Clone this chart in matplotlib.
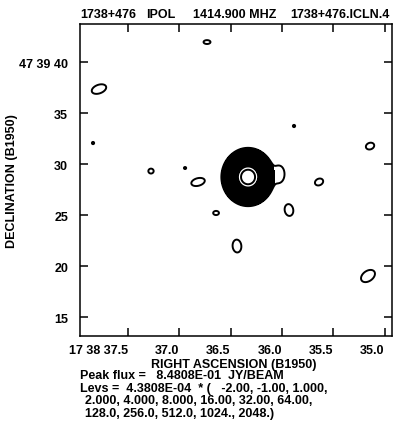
import numpy as np
import matplotlib
matplotlib.use("Agg")
import matplotlib.pyplot as plt

# ── data ─────────────────────────────────────────────────────────────────────

PEAK_FLUX = 8.4808e-01          # Jy/beam
BASE_LEV = 4.3808e-04           # lowest contour, Jy/beam
LEV_MULT = [-2.0, -1.0, 1.0, 2.0, 4.0, 8.0, 16.0, 32.0, 64.0,
            128.0, 256.0, 512.0, 1024.0, 2048.0]

DEC0_DEG = 47 + 39 / 60 + 28 / 3600   # field centre declination

# central source: compact core + fainter halo (RA seconds, Dec arcsec)
CORE_RA, CORE_DEC = 36.330, 28.73
CORE_SIG = [0.61, 0.63]         # arcsec (x, y)
HALO_PEAK = 8.0                 # in units of lowest level
HALO_SIG = [1.23, 1.38]

# faint blobs, each one closed at the lowest contour
BLOB_RA = [36.730, 37.783, 37.841, 37.276, 36.944, 36.818, 35.882,
           35.141, 36.019, 35.638, 36.642, 36.438, 35.931, 35.161]
BLOB_DEC = [41.96, 37.35, 32.06, 29.31, 29.61, 28.24, 33.73,
            31.76, 29.02, 28.24, 25.20, 21.96, 25.49, 19.02]
BLOB_A = [0.34, 0.74, 0.11, 0.26, 0.11, 0.67, 0.11,
          0.42, 0.40, 0.42, 0.28, 0.43, 0.42, 0.76]   # semi-axis x, arcsec
BLOB_B = [0.19, 0.42, 0.11, 0.24, 0.10, 0.37, 0.11,
          0.32, 0.66, 0.32, 0.20, 0.63, 0.58, 0.50]   # semi-axis y, arcsec
BLOB_PA = [0, 20, 0, 0, 0, 15, 0, 20, 0, 25, 0, 5, 10, 35]  # deg, ccw

RA_TICKS = [37.5, 37.0, 36.5, 36.0, 35.5, 35.0]
RA_LABELS = ["17 38 37.5", "37.0", "36.5", "36.0", "35.5", "35.0"]
DEC_TICKS = [15, 20, 25, 30, 35, 40]
DEC_LABELS = ["15", "20", "25", "30", "35", "47 39 40"]

RA_LIM = (37.968, 34.927)
DEC_LIM = (13.14, 43.73)

FS = 9.0

# ── build the map ────────────────────────────────────────────────────────────

plt.rcParams["font.family"] = ["Liberation Sans", "DejaVu Sans"]
plt.rcParams["font.weight"] = "bold"

ra = np.linspace(RA_LIM[1], RA_LIM[0], 900)
dec = np.linspace(DEC_LIM[0], DEC_LIM[1], 900)
RA, DEC = np.meshgrid(ra, dec)
s_per_arcsec = 15 * np.cos(np.radians(DEC0_DEG))

peak_units = PEAK_FLUX / BASE_LEV


def gauss(ra0, dec0, sx, sy, pa, amp):
    x = (ra0 - RA) * s_per_arcsec      # screen x, arcsec (east to the left)
    y = DEC - dec0
    t = np.radians(pa)
    u = x * np.cos(t) + y * np.sin(t)
    v = -x * np.sin(t) + y * np.cos(t)
    return amp * np.exp(-0.5 * ((u / sx) ** 2 + (v / sy) ** 2))


central = gauss(CORE_RA, CORE_DEC, CORE_SIG[0], CORE_SIG[1], 0, peak_units - HALO_PEAK)
central += gauss(CORE_RA, CORE_DEC, HALO_SIG[0], HALO_SIG[1], 0, HALO_PEAK)

field = central.copy()
blob_peak = 1.6
k = np.sqrt(2 * np.log(blob_peak))
for r0, d0, a, b, pa in zip(BLOB_RA, BLOB_DEC, BLOB_A, BLOB_B, BLOB_PA):
    field += gauss(r0, d0, a / k, b / k, pa, blob_peak)

central *= BASE_LEV
field *= BASE_LEV
levels = [m * BASE_LEV for m in LEV_MULT]

# ── plot ─────────────────────────────────────────────────────────────────────

fig = plt.figure(figsize=(4.0, 4.35), dpi=100)
ax = fig.add_axes([0.2, 0.2253, 0.78, 0.7172])

# the crowded outer contours of the bright source print as solid black
ax.contourf(RA, DEC, central, levels=[levels[2], levels[11]], colors="black")
ax.contour(RA, DEC, field, levels=levels, colors="black",
           linewidths=1.4, negative_linestyles="dashed")

ax.set_xlim(*RA_LIM)
ax.set_ylim(*DEC_LIM)
ax.set_xticks(RA_TICKS)
ax.set_xticklabels(RA_LABELS, ha="right")
ax.set_yticks(DEC_TICKS)
ax.set_yticklabels(DEC_LABELS)
ax.tick_params(direction="in", length=5.5, width=1.1, labelsize=FS,
               top=True, right=True)
ax.tick_params(axis="x", pad=5.5)
ax.tick_params(axis="y", pad=8.6)
for sp in ax.spines.values():
    sp.set_linewidth(1.1)

ax.set_xlabel("RIGHT ASCENSION (B1950)", fontsize=FS, fontweight="bold",
              va="baseline")
ax.xaxis.set_label_coords(0.494, -(368.5 - 337) / 312)
ax.set_ylabel("DECLINATION (B1950)", fontsize=FS, fontweight="bold", labelpad=1)

# header line
hy = 1 - 18 / 435
fig.text(0.2, hy, "1738+476", fontsize=FS, fontweight="bold", va="baseline")
fig.text(0.365, hy, "IPOL", fontsize=FS, fontweight="bold", va="baseline")
fig.text(0.4825, hy, "1414.900 MHZ", fontsize=FS, fontweight="bold", va="baseline")
fig.text(0.975, hy, "1738+476.ICLN.4", fontsize=FS, fontweight="bold",
         va="baseline", ha="right")

# footer
fig.text(0.2, 1 - 379.5 / 435, f"Peak flux =   {PEAK_FLUX:.4E}  JY/BEAM",
         fontsize=FS, fontweight="bold", va="baseline")
fig.text(0.2, 1 - 392 / 435, f"Levs =  {BASE_LEV:.4E}  * (   -2.00, -1.00, 1.000,",
         fontsize=FS, fontweight="bold", va="baseline")
fig.text(0.2125, 1 - 404.5 / 435, "2.000, 4.000, 8.000, 16.00, 32.00, 64.00,",
         fontsize=FS, fontweight="bold", va="baseline")
fig.text(0.2125, 1 - 417 / 435, "128.0, 256.0, 512.0, 1024., 2048.)",
         fontsize=FS, fontweight="bold", va="baseline")

fig.savefig("out.png", dpi=100)
